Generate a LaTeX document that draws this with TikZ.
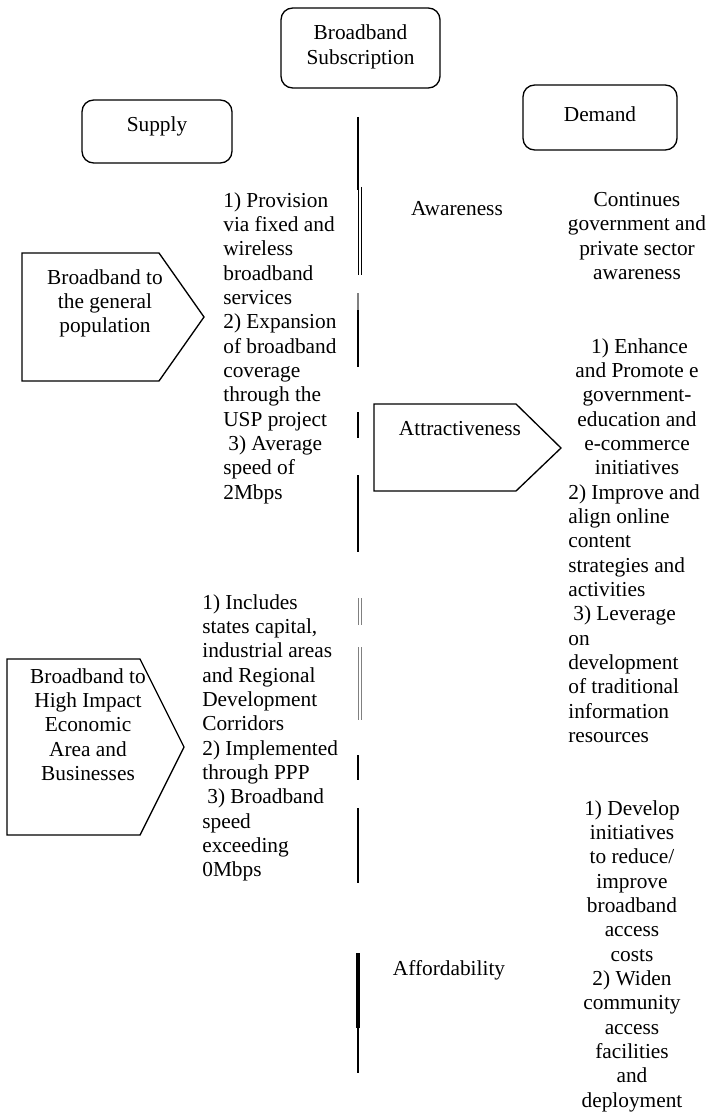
\documentclass[tikz,border=0pt]{standalone}
\usepackage{fontspec}
\setmainfont{Liberation Serif}

\begin{document}
\begin{tikzpicture}[x=0.6pt,y=-0.6pt,
  every node/.style={font=\fontsize{12.8}{14.6}\selectfont,inner sep=0pt},
  box/.style={draw,line width=0.8pt,rounded corners=7pt},
  arrowbox/.style={draw,line width=0.8pt},
  seg/.style={line width=0.8pt},
  dseg/.style={line width=0.5pt}]
  \useasboundingbox (0,0) rectangle (713,1113);
  % headings
  \draw[box] (281,8) rectangle (440,88);
  \node (sub) at (360.5,47) [align=center] {Broadband\\Subscription};
  \draw[box] (82,100) rectangle (232,163);
  \node (supply) at (157,126) {Supply};
  \draw[box] (523,85) rectangle (677,150);
  \node (demand) at (600,114) {Demand};
  % the broken middle line
  \foreach \a/\b in {117/190, 310/367, 412/438, 475/552, 755/780, 808/883, 1028/1073}
    \draw[seg] (358,\a) -- (358,\b);
  \draw[seg,gray] (358,293) -- (358,310);
  \draw[line width=2pt] (358,953) -- (358,1028);
  \foreach \x in {358.8,361.6}
    \draw[dseg] (\x,187) -- (\x,275);
  \foreach \x in {358.8,361.6}
    \draw[dseg,gray] (\x,598) -- (\x,625) (\x,647) -- (\x,720);
  % supply side
  \draw[arrowbox] (22,253) -- (159,253) -- (204,317) -- (159,381) -- (22,381) -- cycle;
  \node (gen) at (105,269) [anchor=north,align=center] {Broadband to\\the general\\population};
  \node (gentxt) at (223,192) [anchor=north west,align=left]
    {1) Provision\\via fixed and\\wireless\\broadband\\services\\2) Expansion\\of broadband\\coverage\\through the\\USP project\\\hspace*{3pt}3) Average\\speed of\\2Mbps};
  \draw[arrowbox] (7,659) -- (140,659) -- (184,747) -- (140,835) -- (7,835) -- cycle;
  \node (high) at (88,668) [anchor=north,align=center] {Broadband to\\High Impact\\Economic\\Area and\\Businesses};
  \node (hightxt) at (202,594) [anchor=north west,align=left]
    {1) Includes\\states capital,\\industrial areas\\and Regional\\Development\\Corridors\\2) Implemented\\through PPP\\\hspace*{3pt}3) Broadband\\speed\\exceeding\\0Mbps};
  % demand side
  \node (aware) at (457,209) {Awareness};
  \node (awaretxt) at (637,192) [anchor=north,align=center]
    {Continues\\government and\\private sector\\awareness};
  \draw[arrowbox] (374,404) -- (516,404) -- (561,448) -- (516,491) -- (374,491) -- cycle;
  \node (attr) at (460,429) {Attractiveness};
  \node (attrtxt) at (637,338) [anchor=north,align=center]
    {\hspace*{3pt}1) Enhance\\and Promote e\\government-\\education and\\e-commerce\\initiatives};
  \node (attrmore) at (568,484) [anchor=north west,align=left]
    {2) Improve and\\align online\\content\\strategies and\\activities\\\hspace*{3pt}3) Leverage\\on\\development\\of traditional\\information\\resources};
  \node (afford) at (449,970) {Affordability};
  \node (affordtxt) at (632,800) [anchor=north,align=center]
    {1) Develop\\initiatives\\to reduce/\\improve\\broadband\\access\\costs\\2) Widen\\community\\access\\facilities\\and\\deployment};
\end{tikzpicture}
\end{document}
